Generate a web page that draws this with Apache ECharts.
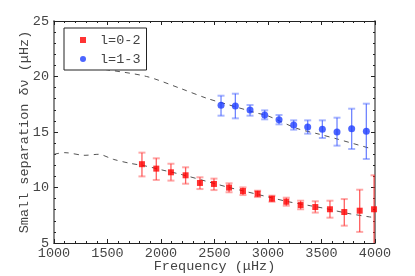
<!DOCTYPE html>
<html>
<head>
<meta charset="utf-8">
<script src="https://cdn.jsdelivr.net/npm/echarts@6/dist/echarts.min.js"></script>
<style>
html,body{margin:0;padding:0;background:#fff;}
#chart{width:415px;height:276px;}
</style>
</head>
<body>
<div id="chart"></div>
<script>
// l=0-2 small separations: frequency, value, lower and upper error limits
var redFreq  = [1822, 1956, 2093, 2230, 2364, 2495, 2636, 2766, 2903, 3037, 3171, 3305, 3442, 3579, 3713, 3857, 3991];
var redVal   = [12.1, 11.7, 11.37, 11.1, 10.41, 10.32, 9.99, 9.68, 9.44, 8.99, 8.72, 8.42, 8.24, 8.04, 7.79, 7.91, 8.04];
var redLow   = [11.0, 10.68, 10.62, 10.34, 9.86, 9.77, 9.57, 9.32, 9.14, 8.72, 8.36, 8.04, 7.74, 7.28, 6.56, 6.0, 4.5];
var redHigh  = [13.14, 12.63, 12.14, 11.82, 10.92, 10.8, 10.38, 10.01, 9.71, 9.26, 9.08, 8.81, 8.76, 8.81, 8.96, 9.8, 11.1];

// l=1-3 small separations
var blueFreq = [2561, 2695, 2832, 2969, 3103, 3240, 3371, 3508, 3645, 3782, 3919];
var blueVal  = [17.4, 17.34, 16.98, 16.53, 16.11, 15.63, 15.45, 15.24, 15.0, 15.3, 15.06];
var blueLow  = [16.47, 16.23, 16.47, 16.14, 15.69, 15.21, 14.85, 14.46, 13.77, 13.47, 12.57];
var blueHigh = [18.27, 18.45, 17.43, 16.95, 16.53, 16.05, 16.05, 16.05, 16.29, 17.1, 17.55];

// model curves (dashed)
var modelLowFreq  = [1000, 1100, 1290, 1414, 1554, 1710, 1850, 2000, 2200, 2458, 2636, 2766, 3000, 3200, 3400, 3540, 3745, 3950, 3990];
var modelLowVal   = [13.0, 13.14, 12.9, 12.99, 12.54, 12.18, 11.95, 11.6, 11.15, 10.47, 10.0, 9.7, 9.15, 8.7, 8.35, 8.1, 7.67, 7.35, 7.3];
var modelHighFreq = [1200, 1500, 1866, 2178, 2427, 2614, 2900, 3000, 3268, 3480, 3657, 3953];
var modelHighVal  = [21.0, 20.6, 20.0, 18.94, 18.04, 17.5, 16.7, 16.45, 15.33, 14.8, 14.34, 13.53];

// axis ticks
var xMin = 1000, xMax = 4000, xStep = 500;
var yMin = 5, yMax = 25, yStep = 5;

var FONT = 'Liberation Mono';
var TXT = '#444';

function zip2(a, b) { return a.map(function (v, i) { return [v, b[i]]; }); }
function zip3(a, b, c) { return a.map(function (v, i) { return [v, b[i], c[i]]; }); }

function errRender(lineColor, capColor) {
  return function (params, api) {
    var x = api.value(0);
    var lo = api.coord([x, api.value(1)]);
    var hi = api.coord([x, api.value(2)]);
    var hw = 3.5;
    return {
      type: 'group',
      children: [
        { type: 'line', shape: { x1: lo[0], y1: lo[1], x2: hi[0], y2: hi[1] }, style: { stroke: lineColor, lineWidth: 1.3 } },
        { type: 'line', shape: { x1: lo[0] - hw, y1: lo[1], x2: lo[0] + hw, y2: lo[1] }, style: { stroke: capColor, lineWidth: 2 } },
        { type: 'line', shape: { x1: hi[0] - hw, y1: hi[1], x2: hi[0] + hw, y2: hi[1] }, style: { stroke: capColor, lineWidth: 2 } }
      ]
    };
  };
}

var chart = echarts.init(document.getElementById('chart'), null, { renderer: 'canvas' });

var commonX = {
  type: 'value', min: xMin, max: xMax, interval: xStep,
  splitLine: { show: false },
  axisTick: { show: true, inside: true, length: 4, lineStyle: { color: '#222' } },
  minorTick: { show: true, splitNumber: 5, length: 2, lineStyle: { color: '#222' } },
  axisLine: { show: true, onZero: false, lineStyle: { color: '#222', width: 1 } }
};
var commonY = {
  type: 'value', min: yMin, max: yMax, interval: yStep,
  splitLine: { show: false },
  axisTick: { show: true, inside: true, length: 4, lineStyle: { color: '#222' } },
  minorTick: { show: true, splitNumber: 5, length: 2, lineStyle: { color: '#222' } },
  axisLine: { show: true, onZero: false, lineStyle: { color: '#8a8a8a', width: 2 } }
};

var option = {
  animation: false,
  backgroundColor: '#fff',
  textStyle: { fontFamily: FONT },
  grid: { left: 54, right: 40, top: 21, bottom: 33, containLabel: false, outerBoundsMode: 'none' },
  legend: {
    left: 64, top: 28, orient: 'vertical',
    backgroundColor: '#fff', borderColor: '#222', borderWidth: 1,
    padding: [5, 6, 4, 16], itemGap: 5, itemWidth: 6, itemHeight: 6,
    textStyle: { fontFamily: FONT, fontSize: 13.5, color: TXT, padding: [0, 0, 0, 9] },
    data: [
      { name: 'l=0-2', icon: 'rect', itemStyle: { color: '#ff0000' } },
      { name: 'l=1-3', icon: 'circle', itemStyle: { color: '#1f3fff' } }
    ]
  },
  xAxis: [
    Object.assign({}, commonX, {
      position: 'bottom',
      axisLabel: { fontFamily: FONT, fontSize: 13.5, color: TXT, margin: 3, formatter: function (v) { return String(v); } },
      name: 'Frequency (μHz)', nameLocation: 'middle', nameGap: 16, nameMoveOverlap: false,
      nameTextStyle: { fontFamily: FONT, fontSize: 13.5, color: TXT }
    }),
    Object.assign({}, commonX, { position: 'top', axisLabel: { show: false } })
  ],
  yAxis: [
    Object.assign({}, commonY, {
      position: 'left',
      axisLabel: { fontFamily: FONT, fontSize: 13.5, color: TXT, margin: 5 },
      name: 'Small separation δν (μHz)', nameLocation: 'middle', nameGap: 23, nameMoveOverlap: false,
      nameTextStyle: { fontFamily: FONT, fontSize: 13.5, color: TXT }
    }),
    Object.assign({}, commonY, { position: 'right', axisLabel: { show: false } })
  ],
  series: [
    {
      type: 'line', name: 'modelLow', data: zip2(modelLowFreq, modelLowVal),
      smooth: 0.3, showSymbol: false, symbol: 'none',
      lineStyle: { color: '#555', width: 1, type: [5, 5] }, z: 1, silent: true
    },
    {
      type: 'line', name: 'modelHigh', data: zip2(modelHighFreq, modelHighVal),
      smooth: 0.3, showSymbol: false, symbol: 'none',
      lineStyle: { color: '#555', width: 1, type: [5, 5] }, z: 1, silent: true
    },
    {
      type: 'custom', name: 'redErr', data: zip3(redFreq, redLow, redHigh),
      renderItem: errRender('rgba(255,40,40,0.75)', 'rgba(255,60,60,0.45)'),
      clip: true, z: 2, encode: { x: 0, y: [1, 2] }
    },
    {
      type: 'custom', name: 'blueErr', data: zip3(blueFreq, blueLow, blueHigh),
      renderItem: errRender('rgba(50,80,255,0.7)', 'rgba(60,90,255,0.45)'),
      clip: true, z: 2, encode: { x: 0, y: [1, 2] }
    },
    {
      type: 'scatter', name: 'l=0-2', data: zip2(redFreq, redVal),
      symbol: 'rect', symbolSize: 6, itemStyle: { color: '#ff0000' }, z: 3
    },
    {
      type: 'scatter', name: 'l=1-3', data: zip2(blueFreq, blueVal),
      symbol: 'circle', symbolSize: 7, itemStyle: { color: '#1f3fff' }, z: 3
    }
  ]
};
chart.setOption(option);
</script>
</body>
</html>
